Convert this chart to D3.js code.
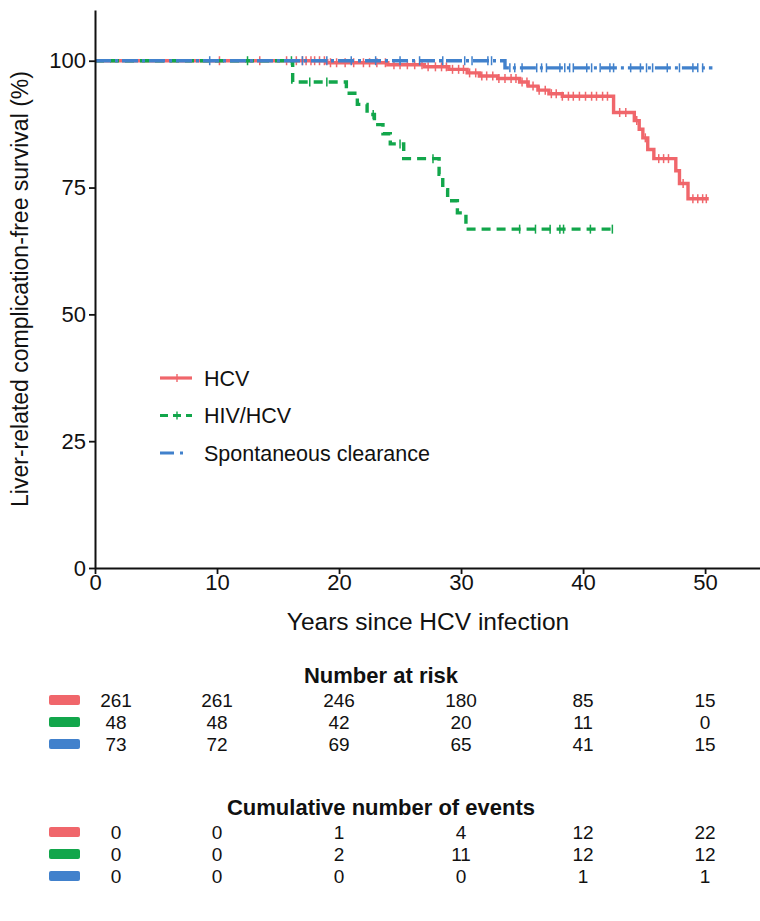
<!DOCTYPE html>
<html>
<head>
<meta charset="utf-8">
<script src="https://cdn.jsdelivr.net/npm/d3@7"></script>
<style>
  body { margin: 0; background: #fff; }
  svg text { font-family: "Liberation Sans", Arial, sans-serif; fill: #111; }
</style>
</head>
<body>
<div id="chart"></div>
<script>
'use strict';

// ------------------------------------
// DATA
// ------------------------------------
const groups = ["HCV", "HIV/HCV", "Spontaneous clearance"];

// step points: [time of event, survival % after event]
const hcvSteps = [[0, 100], [19.0, 99.6], [24.0, 99.2], [27.0, 98.8], [29.0, 98.3], [30.5, 97.6],
  [31.5, 97.0], [33.0, 96.5], [34.8, 95.8], [35.5, 95.0], [36.3, 94.2], [37.2, 93.5], [38.3, 93.0],
  [42.5, 89.8], [44.2, 88.2], [44.6, 86.5], [44.9, 84.8], [45.3, 82.5], [45.8, 80.7],
  [47.6, 78.3], [47.9, 75.8], [48.6, 72.8]];
const hcvEnd = 50.3;
const hivSteps = [[0, 100], [16.2, 95.8], [20.6, 93.6], [21.5, 91.4], [22.3, 89.4], [22.9, 87.4],
  [23.6, 85.6], [24.2, 83.6], [25.3, 80.7], [28.2, 77.6], [28.5, 74.6], [28.9, 72.4],
  [29.7, 70.0], [30.4, 66.8]];
const hivEnd = 42.5;
const scSteps = [[0, 100], [33.6, 98.6]];
const scEnd = 50.6;

// censoring times
const hcvCensor = [10.2, 13.5, 15.7, 16.5, 17.0, 17.3, 17.7, 18.0, 18.4, 18.8, 19.3, 19.8, 20.5,
  21.2, 22.0, 22.5, 23.1, 23.8, 24.5, 25.0, 25.6, 26.2, 26.8, 27.3, 27.9, 28.4, 28.8, 29.3, 29.8,
  30.2, 30.7, 31.2, 31.7, 32.1, 32.6, 33.1, 33.6, 34.1, 34.5, 35.0, 35.4, 35.9, 36.4, 36.9, 37.4,
  37.8, 38.3, 38.8, 39.2, 39.7, 40.2, 40.7, 41.1, 41.6, 42.0, 43.0, 43.5, 44.4, 45.1, 46.2, 46.6,
  47.0, 48.2, 49.0, 49.4, 49.8, 50.1];
const hivCensor = [12.5, 16.1, 17.6, 19.0, 22.8, 25.0, 27.7, 34.8, 36.1, 37.3, 38.1, 38.4, 40.6, 42.4];
const scCensor = [9.4, 17.0, 19.0, 21.0, 23.0, 25.0, 26.6, 28.5, 30.3, 30.9, 32.2, 32.5, 34.0, 34.4,
  35.0, 36.2, 36.6, 37.0, 38.1, 38.5, 38.9, 39.2, 40.3, 40.7, 41.4, 42.2, 42.5, 43.9, 44.7, 45.2,
  45.7, 46.9, 47.9, 49.0, 49.4, 49.8];

// risk table
const tableTimes = [0, 10, 20, 30, 40, 50];
const atRiskHCV = [261, 261, 246, 180, 85, 15];
const atRiskHIV = [48, 48, 42, 20, 11, 0];
const atRiskSC = [73, 72, 69, 65, 41, 15];
const eventsHCV = [0, 0, 1, 4, 12, 22];
const eventsHIV = [0, 0, 2, 11, 12, 12];
const eventsSC = [0, 0, 0, 0, 1, 1];

const xTicks = [0, 10, 20, 30, 40, 50];
const yTicks = [0, 25, 50, 75, 100];

// ------------------------------------
// SETUP
// ------------------------------------
const width = 760;
const height = 921;
const margin = { top: 10, left: 95, bottom: 353 };

const color = d3.scaleOrdinal()
  .domain(groups)
  .range(["#f0666b", "#12a64b", "#4181cc"]);
const dash = { "HCV": null, "HIV/HCV": "9,6", "Spontaneous clearance": "16,4,3,4" };

const xScale = d3.scaleLinear().domain([0, 54.5]).range([margin.left, width]);
const yScale = d3.scaleLinear().domain([0, 110]).range([height - margin.bottom, margin.top]);

const svg = d3.select("#chart").append("svg")
  .attr("width", width)
  .attr("height", height);

const series = [
  { name: "HCV", steps: hcvSteps, end: hcvEnd, censor: hcvCensor },
  { name: "HIV/HCV", steps: hivSteps, end: hivEnd, censor: hivCensor },
  { name: "Spontaneous clearance", steps: scSteps, end: scEnd, censor: scCensor }
];

function survAt(steps, t) {
  let s = steps[0][1];
  steps.forEach(([ti, si]) => { if (ti <= t) s = si; });
  return s;
}

const line = d3.line()
  .x(d => xScale(d[0]))
  .y(d => yScale(d[1]))
  .curve(d3.curveStepAfter);

// ------------------------------------
// CURVES
// ------------------------------------
const gLines = svg.append("g");
series.forEach(s => {
  const pts = s.steps.concat([[s.end, s.steps[s.steps.length - 1][1]]]);
  gLines.append("path")
    .attr("d", line(pts))
    .attr("fill", "none")
    .attr("stroke", color(s.name))
    .attr("stroke-width", 3.4)
    .attr("stroke-dasharray", dash[s.name]);

  gLines.selectAll(null)
    .data(s.censor)
    .join("line")
    .attr("x1", d => xScale(d))
    .attr("x2", d => xScale(d))
    .attr("y1", d => yScale(survAt(s.steps, d)) - 4.5)
    .attr("y2", d => yScale(survAt(s.steps, d)) + 4.5)
    .attr("stroke", color(s.name))
    .attr("stroke-width", 1.5);
});

// ------------------------------------
// AXES
// ------------------------------------
const xAxis = svg.append("g")
  .attr("transform", `translate(0, ${yScale(0)})`)
  .call(d3.axisBottom(xScale).tickValues(xTicks).tickSize(6).tickPadding(2).tickSizeOuter(0));
const yAxis = svg.append("g")
  .attr("transform", `translate(${xScale(0)}, 0)`)
  .call(d3.axisLeft(yScale).tickValues(yTicks).tickSize(6).tickPadding(3).tickSizeOuter(0));

[xAxis, yAxis].forEach(a => {
  a.select(".domain").attr("stroke", "#111").attr("stroke-width", 2);
  a.selectAll(".tick line").attr("stroke", "#111").attr("stroke-width", 1.8);
  a.selectAll(".tick text").attr("font-size", 22).attr("fill", "#111");
});
xAxis.selectAll(".tick text").attr("dy", "0.62em");

svg.append("text")
  .attr("x", 428)
  .attr("y", 621)
  .attr("dy", "0.36em")
  .attr("text-anchor", "middle")
  .attr("font-size", 24.5)
  .text("Years since HCV infection");

svg.append("text")
  .attr("transform", `translate(20, 289) rotate(-90)`)
  .attr("text-anchor", "middle")
  .attr("dy", "0.36em")
  .attr("font-size", 23)
  .text("Liver-related complication-free survival (%)");

// ------------------------------------
// LEGEND
// ------------------------------------
const legend = svg.append("g");
series.forEach((s, i) => {
  const y = 378 + i * 37.5;
  legend.append("line")
    .attr("x1", 160).attr("x2", 192).attr("y1", y).attr("y2", y)
    .attr("stroke", color(s.name))
    .attr("stroke-width", 3.2)
    .attr("stroke-dasharray", s.name === "HIV/HCV" ? "8,5" : (s.name === "HCV" ? null : "14,6,3,20"));
  legend.append("line")
    .attr("x1", 177).attr("x2", 177).attr("y1", y - 4).attr("y2", y + 4)
    .attr("stroke", color(s.name))
    .attr("stroke-width", 1.4)
    .attr("opacity", s.name === "Spontaneous clearance" ? 0 : 1);
  legend.append("text")
    .attr("x", 204)
    .attr("y", y)
    .attr("dy", "0.36em")
    .attr("font-size", 21.5)
    .text(s.name);
});

// ------------------------------------
// RISK TABLES
// ------------------------------------
function drawTable(title, titleY, rowsY, rows) {
  svg.append("text")
    .attr("x", 381)
    .attr("y", titleY)
    .attr("dy", "0.36em")
    .attr("text-anchor", "middle")
    .attr("font-size", 22)
    .attr("font-weight", "bold")
    .text(title);
  rows.forEach((vals, i) => {
    const y = rowsY[i];
    svg.append("rect")
      .attr("x", 49).attr("y", y - 5).attr("width", 31).attr("height", 10).attr("rx", 2)
      .attr("fill", color(groups[i]));
    svg.selectAll(null)
      .data(vals)
      .join("text")
      .attr("x", (d, j) => xScale(tableTimes[j]) + (j === 0 ? 21 : 0))
      .attr("y", y)
      .attr("dy", "0.36em")
      .attr("text-anchor", "middle")
      .attr("font-size", 19)
      .text(d => d);
  });
}

drawTable("Number at risk", 675, [700, 722, 744], [atRiskHCV, atRiskHIV, atRiskSC]);
drawTable("Cumulative number of events", 807, [832, 854, 876], [eventsHCV, eventsHIV, eventsSC]);
</script>
</body>
</html>
